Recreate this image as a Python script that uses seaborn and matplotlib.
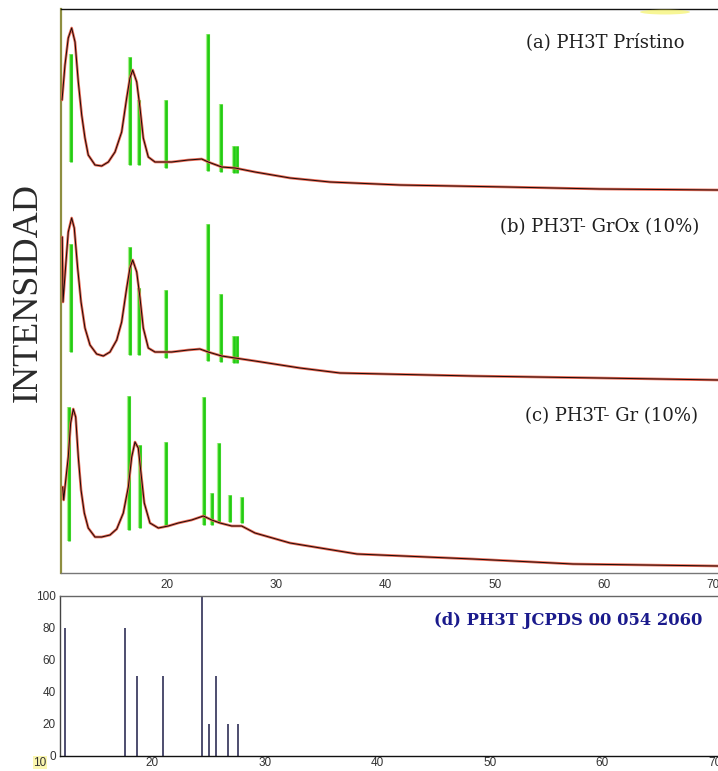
import matplotlib
matplotlib.use("Agg")
import matplotlib.pyplot as plt
import matplotlib.transforms as mtransforms
from matplotlib.patches import Ellipse
import numpy as np
import pandas as pd
import seaborn as sns

# ---------------- data ----------------
# Diffractograms (2-theta, stacked intensity in a.u.)
tt_a = [10.37, 10.64, 10.94, 11.25, 11.56, 11.86, 12.17, 12.47, 12.77, 13.39, 14.00,
        14.61, 15.22, 15.83, 16.29, 16.59, 16.84, 17.21, 17.51, 17.81, 18.27, 18.88,
        20.41, 21.93, 23.16, 23.76, 24.99, 26.21, 28.04, 31.25, 34.91, 41.32, 51.12,
        59.63, 70.44]
int_a = [473, 508, 535, 545, 531, 491, 458, 435, 418, 408, 407,
         411, 421, 441, 475, 495, 503, 491, 465, 435, 416, 411,
         411, 413, 414, 411, 406, 405, 401, 395, 391, 388, 386,
         384, 383]

tt_b = [10.39, 10.46, 10.71, 10.94, 11.25, 11.49, 11.80, 12.11, 12.47, 12.93, 13.54,
        14.15, 14.76, 15.38, 15.83, 16.29, 16.59, 16.84, 17.21, 17.51, 17.81, 18.27,
        18.88, 20.41, 21.93, 22.99, 23.76, 24.99, 26.21, 28.04, 32.16, 35.82, 48.00,
        59.63, 70.44]
int_b = [336, 271, 308, 341, 355, 345, 305, 271, 245, 228, 219,
         217, 221, 233, 251, 285, 305, 313, 301, 275, 245, 225,
         221, 221, 223, 224, 221, 217, 215, 212, 205, 200, 197,
         195, 193]

tt_c = [10.43, 10.52, 10.64, 10.94, 11.16, 11.40, 11.62, 11.86, 12.11, 12.41, 12.77,
        13.39, 14.00, 14.76, 15.38, 15.98, 16.44, 16.75, 17.05, 17.35, 17.60, 17.90,
        18.42, 19.19, 20.10, 21.02, 22.24, 23.31, 24.08, 24.84, 25.91, 26.82, 28.04,
        31.25, 37.38, 48.00, 57.16, 70.44]
int_c = [86, 73, 86, 116, 150, 164, 156, 116, 83, 60, 45,
         36, 36, 38, 44, 60, 86, 116, 131, 125, 100, 70,
         50, 45, 47, 50, 53, 57, 53, 50, 47, 47, 40,
         30, 19, 14, 9, 7]

# Reference reflections marked on each diffractogram (position, base, top)
stick_a_pos = [11.16, 16.62, 17.45, 19.89, 23.77, 24.93, 26.12, 26.42]
stick_a_base = [411, 408, 408, 405, 402, 401, 400, 400]
stick_a_top = [519, 516, 473, 473, 539, 469, 427, 427]

stick_b_pos = [11.16, 16.62, 17.45, 19.89, 23.77, 24.93, 26.12, 26.42]
stick_b_base = [221, 218, 218, 215, 212, 211, 210, 210]
stick_b_top = [329, 326, 285, 283, 349, 279, 237, 237]

stick_c_pos = [11.04, 16.50, 17.51, 19.89, 23.40, 24.07, 24.77, 25.75, 26.82]
stick_c_base = [32, 43, 45, 47, 48, 48, 50, 51, 50]
stick_c_top = [166, 177, 128, 131, 176, 80, 130, 78, 76]

# JCPDS 00-054-2060 pattern
jcpds_2theta = [12.22, 17.58, 18.59, 20.96, 24.43, 24.99, 25.67, 26.74, 27.63]
jcpds_int = [80, 80, 50, 50, 100, 20, 50, 20, 20]

labels = ["(a) PH3T Prístino", "(b) PH3T- GrOx (10%)", "(c) PH3T- Gr (10%)"]
label_d = "(d) PH3T JCPDS 00 054 2060"
ylabel = "INTENSIDAD"
top_xticks = [20, 30, 40, 50, 60, 70]
bot_xticks = [20, 30, 40, 50, 60, 70]
bot_yticks = [0, 20, 40, 60, 80, 100]

# ---------------- style ----------------
sns.set_style("white")
plt.rcParams["font.family"] = ["Liberation Sans", "DejaVu Sans"]

RED = "#ea6a55"
GREEN = "#22cc11"
NAVY = "#1c1c48"

fig = plt.figure(figsize=(7.18, 7.71), dpi=100)
W, H = 718, 771
ax1 = fig.add_axes([61 / W, 1 - 573 / H, 657 / W, 564 / H])
ax2 = fig.add_axes([60 / W, 1 - 755.7 / H, 658 / W, 159.7 / H])

# ---------------- top panel: diffractograms ----------------
curves = [(tt_a, int_a), (tt_b, int_b), (tt_c, int_c)]
sticks = [(stick_a_pos, stick_a_base, stick_a_top),
          (stick_b_pos, stick_b_base, stick_b_top),
          (stick_c_pos, stick_c_base, stick_c_top)]

for pos, base, top in sticks:
    ax1.vlines(pos, base, top, colors="#a6f08a", lw=3.0, zorder=2)
    ax1.vlines(pos, base, top, colors=GREEN, lw=1.9, zorder=3)

for tt, iy in curves:
    df = pd.DataFrame({"two_theta": tt, "intensity": iy})
    sns.lineplot(data=df, x="two_theta", y="intensity", ax=ax1, color=RED,
                 lw=1.9, estimator=None, sort=False, zorder=4)
    sns.lineplot(data=df, x="two_theta", y="intensity", ax=ax1, color="#1a0a08",
                 lw=0.7, estimator=None, sort=False, zorder=5)

ax1.set_xlim(10.275, 70.44)
ax1.set_ylim(0, 564)
ax1.set_xlabel("")
ax1.set_ylabel("")
ax1.set_yticks([])
ax1.set_xticks(top_xticks)
ax1.set_xticklabels([str(t) for t in top_xticks])
ax1.tick_params(axis="x", labelsize=8.5, labelcolor="#333333", length=0, pad=4)
ax1.spines["right"].set_visible(False)
ax1.spines["top"].set_color("#111111")
ax1.spines["top"].set_linewidth(1.0)
ax1.spines["left"].set_color("#8e8e40")
ax1.spines["left"].set_linewidth(1.6)
ax1.spines["bottom"].set_color("#777777")
ax1.spines["bottom"].set_linewidth(1.0)

label_pos = [(685, 42), (699, 227), (698, 416)]
for txt, (px, py) in zip(labels, label_pos):
    fig.text(px / W, 1 - py / H, txt, ha="right", va="center",
             fontsize=13, color="#1e1e1e", family=["DejaVu Serif"])

# faint yellow stroke near the top frame
fig.patches.append(Ellipse((665 / W, 1 - 12 / H), 50 / W, 5 / H,
                           transform=fig.transFigure, color="#f2ef40",
                           alpha=0.55, lw=0))

fig.text(28 / W, 1 - 293 / H, ylabel, rotation=90, ha="center", va="center",
         fontsize=26, color="#2a2a2a", family=["Liberation Serif", "DejaVu Serif"])

# ---------------- bottom panel: JCPDS pattern ----------------
ax2.vlines(jcpds_2theta, 0, jcpds_int, colors=NAVY, lw=1.1)
ax2.set_xlim(11.78, 70.27)
ax2.set_ylim(0, 100)
ax2.set_xticks(bot_xticks)
ax2.set_xticklabels([str(t) for t in bot_xticks])
ax2.set_yticks(bot_yticks)
ax2.set_yticklabels([str(t) for t in bot_yticks])
ax2.tick_params(axis="both", labelsize=8.5, labelcolor="#333333", length=2,
                color="#555555", pad=1.0)
ax2.tick_params(axis="x", pad=0.2, length=1)
ax2.spines["right"].set_visible(False)
ax2.spines["top"].set_color("#666666")
ax2.spines["left"].set_color("#444444")
ax2.spines["bottom"].set_color("#111111")
for s in ("top", "left", "bottom"):
    ax2.spines[s].set_linewidth(1.0)

trans = mtransforms.blended_transform_factory(ax2.transData, ax2.transAxes)
ax2.text(10, -0.045, "10", transform=trans, ha="center", va="center",
         fontsize=8.5, color="#333333", clip_on=False,
         bbox=dict(boxstyle="square,pad=0.05", fc="#fbf7b0", ec="none"))

ax2.text(0.976, 0.845, label_d, transform=ax2.transAxes, ha="right", va="center",
         fontsize=11.8, fontweight="bold", color="#1a1a8c",
         family=["DejaVu Serif"])

fig.savefig("out.png", dpi=100, facecolor="white")
